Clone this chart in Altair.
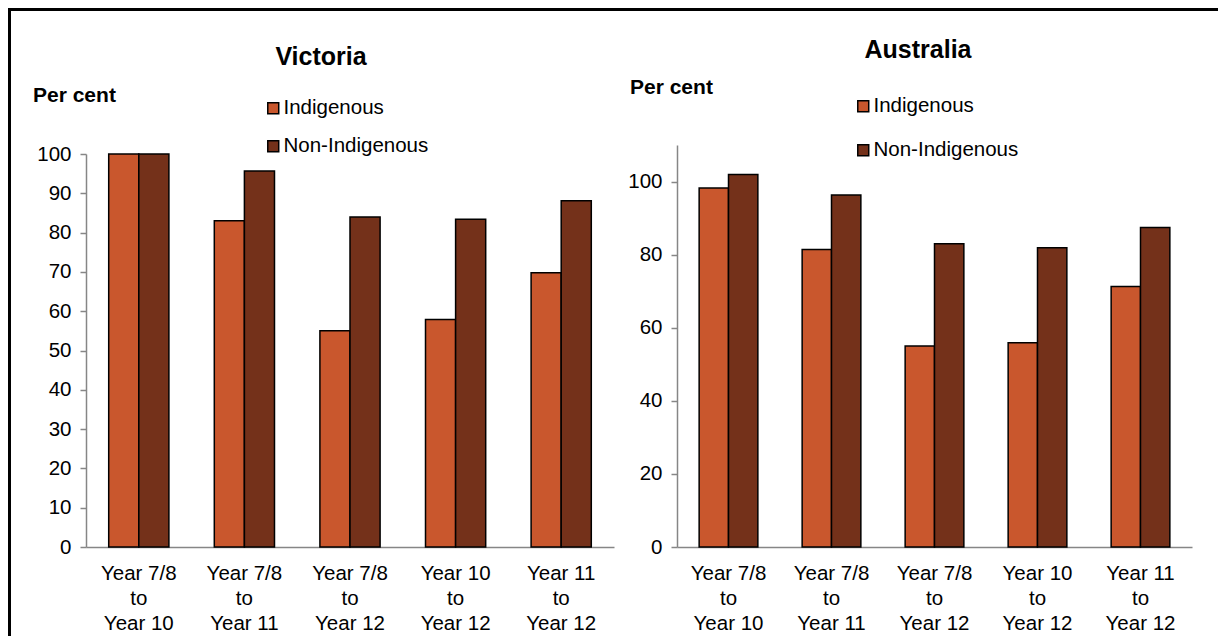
import altair as alt
import pandas as pd

# ---- data ----
stages = ["Year 7/8 to Year 10", "Year 7/8 to Year 11", "Year 7/8 to Year 12",
          "Year 10 to Year 12", "Year 11 to Year 12"]
groups = ["Indigenous", "Non-Indigenous"]

vic_indigenous = [100.0, 83.0, 55.0, 57.9, 69.8]
vic_non_indigenous = [100.0, 95.7, 84.0, 83.4, 88.1]

aus_indigenous = [98.2, 81.4, 55.0, 55.9, 71.3]
aus_non_indigenous = [101.9, 96.3, 83.0, 81.9, 87.4]

vic_ticks = [0, 10, 20, 30, 40, 50, 60, 70, 80, 90, 100]
aus_ticks = [0, 20, 40, 60, 80, 100]

colors = ["#C9572D", "#74311A"]
FONT = "Liberation Sans"
FS = 20.5


def make_df(ind, non):
    rows = []
    for s, a, b in zip(stages, ind, non):
        rows.append({"stage": s, "group": groups[0], "value": a})
        rows.append({"stage": s, "group": groups[1], "value": b})
    return pd.DataFrame(rows)


vic_df = make_df(vic_indigenous, vic_non_indigenous)
aus_df = make_df(aus_indigenous, aus_non_indigenous)

W, H = 1210, 628
AXIS_Y = 539  # pixel row of the zero line (chart coordinates)

label_expr = "split(replace(datum.label, ' to ', '|to|'), '|')"


def bars(df, xrange, yrange, ydomain, yticks, y_offset, legend_x, legend_y, row_pad):
    return alt.Chart(df).mark_bar(stroke="black", strokeWidth=1.5).encode(
        x=alt.X(
            "stage:N", sort=stages,
            scale=alt.Scale(range=xrange, paddingInner=0.43, paddingOuter=0.215),
            axis=alt.Axis(
                orient="bottom", offset=-(H - AXIS_Y), title=None, ticks=False,
                labelAngle=0, labelExpr=label_expr, labelFont=FONT, labelFontSize=FS,
                labelColor="black", labelLineHeight=25, labelPadding=16,
                domainColor="#868686", domainWidth=1.5,
            ),
        ),
        xOffset=alt.XOffset("group:N", sort=groups),
        y=alt.Y(
            "value:Q",
            scale=alt.Scale(domain=ydomain, range=yrange, nice=False, zero=True),
            axis=alt.Axis(
                orient="left", offset=y_offset, title=None, values=yticks, grid=False,
                labelFont=FONT, labelFontSize=FS, labelColor="black", labelPadding=9,
                tickSize=6, tickColor="#868686", domainColor="#868686", domainWidth=1.5,
                tickWidth=1.5,
            ),
        ),
        color=alt.Color(
            "group:N",
            scale=alt.Scale(domain=groups, range=colors),
            legend=alt.Legend(
                orient="none", legendX=legend_x, legendY=legend_y, title=None,
                direction="vertical", symbolType="square", symbolSize=120,
                symbolStrokeColor="black", symbolStrokeWidth=1.5,
                labelFont=FONT, labelFontSize=FS, labelColor="black",
                labelOffset=0, rowPadding=row_pad,
            ),
        ),
    )


vic = bars(vic_df, [78, 606], [AXIS_Y, 146], [0, 100], vic_ticks, -78, 255, 90, 17)
aus = bars(aus_df, [669, 1184], [AXIS_Y, 137], [0, 110], aus_ticks, -669, 845, 88, 23)

one = alt.Data(values=[{}])


def text(s, x, y, size, bold, align):
    return alt.Chart(one).mark_text(
        text=s, font=FONT, fontSize=size, fontWeight="bold" if bold else "normal",
        align=align, baseline="middle", color="black",
    ).encode(x=alt.value(x), y=alt.value(y))


titles = [
    text("Victoria", 313, 49, 25, True, "center"),
    text("Australia", 910, 42, 25, True, "center"),
    text("Per cent", 25, 88, 21, True, "left"),
    text("Per cent", 622, 80, 21, True, "left"),
]

frame_top = alt.Chart(one).mark_rule(color="black", strokeWidth=3).encode(
    x=alt.value(0), x2=alt.value(W), y=alt.value(1.5))
frame_left = alt.Chart(one).mark_rule(color="black", strokeWidth=3).encode(
    x=alt.value(1.5), y=alt.value(0), y2=alt.value(H))

chart = alt.layer(frame_top, frame_left, vic, aus, *titles).resolve_scale(
    x="independent", y="independent", color="independent", xOffset="independent"
).resolve_axis(x="independent", y="independent").resolve_legend(
    color="independent"
).properties(
    width=W, height=H, padding=0,
    autosize=alt.AutoSizeParams(type="none"),
    background="white",
).configure_view(stroke=None)

chart.save("out.html", embed_options={"renderer": "svg", "actions": False})
